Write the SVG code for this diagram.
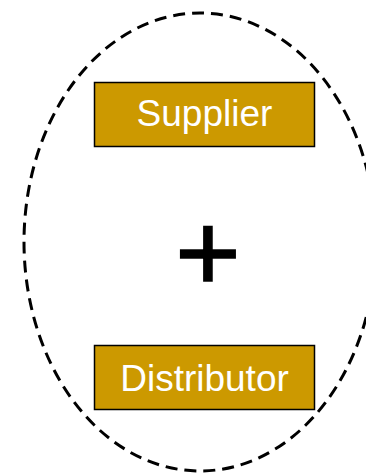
<svg xmlns="http://www.w3.org/2000/svg" width="366" height="474" viewBox="0 0 366 474">
  <style>
    .box { fill: #CC9900; stroke: #000000; stroke-width: 1.5; }
    .label { font-family: "Liberation Sans", Arial, sans-serif; font-size: 37px; fill: #FFFFFF; text-anchor: middle; }
    .group { fill: none; stroke: #000000; stroke-width: 3; stroke-dasharray: 12 7; }
    .op { font-family: "Liberation Sans", Arial, sans-serif; font-size: 112px; fill: #000000; stroke: #000000; stroke-width: 1.6; text-anchor: middle; }
  </style>
  <rect x="0" y="0" width="366" height="474" fill="#FFFFFF"/>
  <!-- dashed boundary enclosing both parties -->
  <g id="boundary">
    <ellipse class="group" cx="200" cy="242" rx="176" ry="229"/>
  </g>
  <g id="supplier">
    <rect class="box" x="94.5" y="82.5" width="220" height="64"/>
    <text class="label" x="204.5" y="126">Supplier</text>
  </g>
  <g id="plus">
    <text class="op" x="208" y="291">+</text>
  </g>
  <g id="distributor">
    <rect class="box" x="94.5" y="345.5" width="220" height="64"/>
    <text class="label" x="204.5" y="391">Distributor</text>
  </g>
  <g id="connectors"></g>
</svg>
